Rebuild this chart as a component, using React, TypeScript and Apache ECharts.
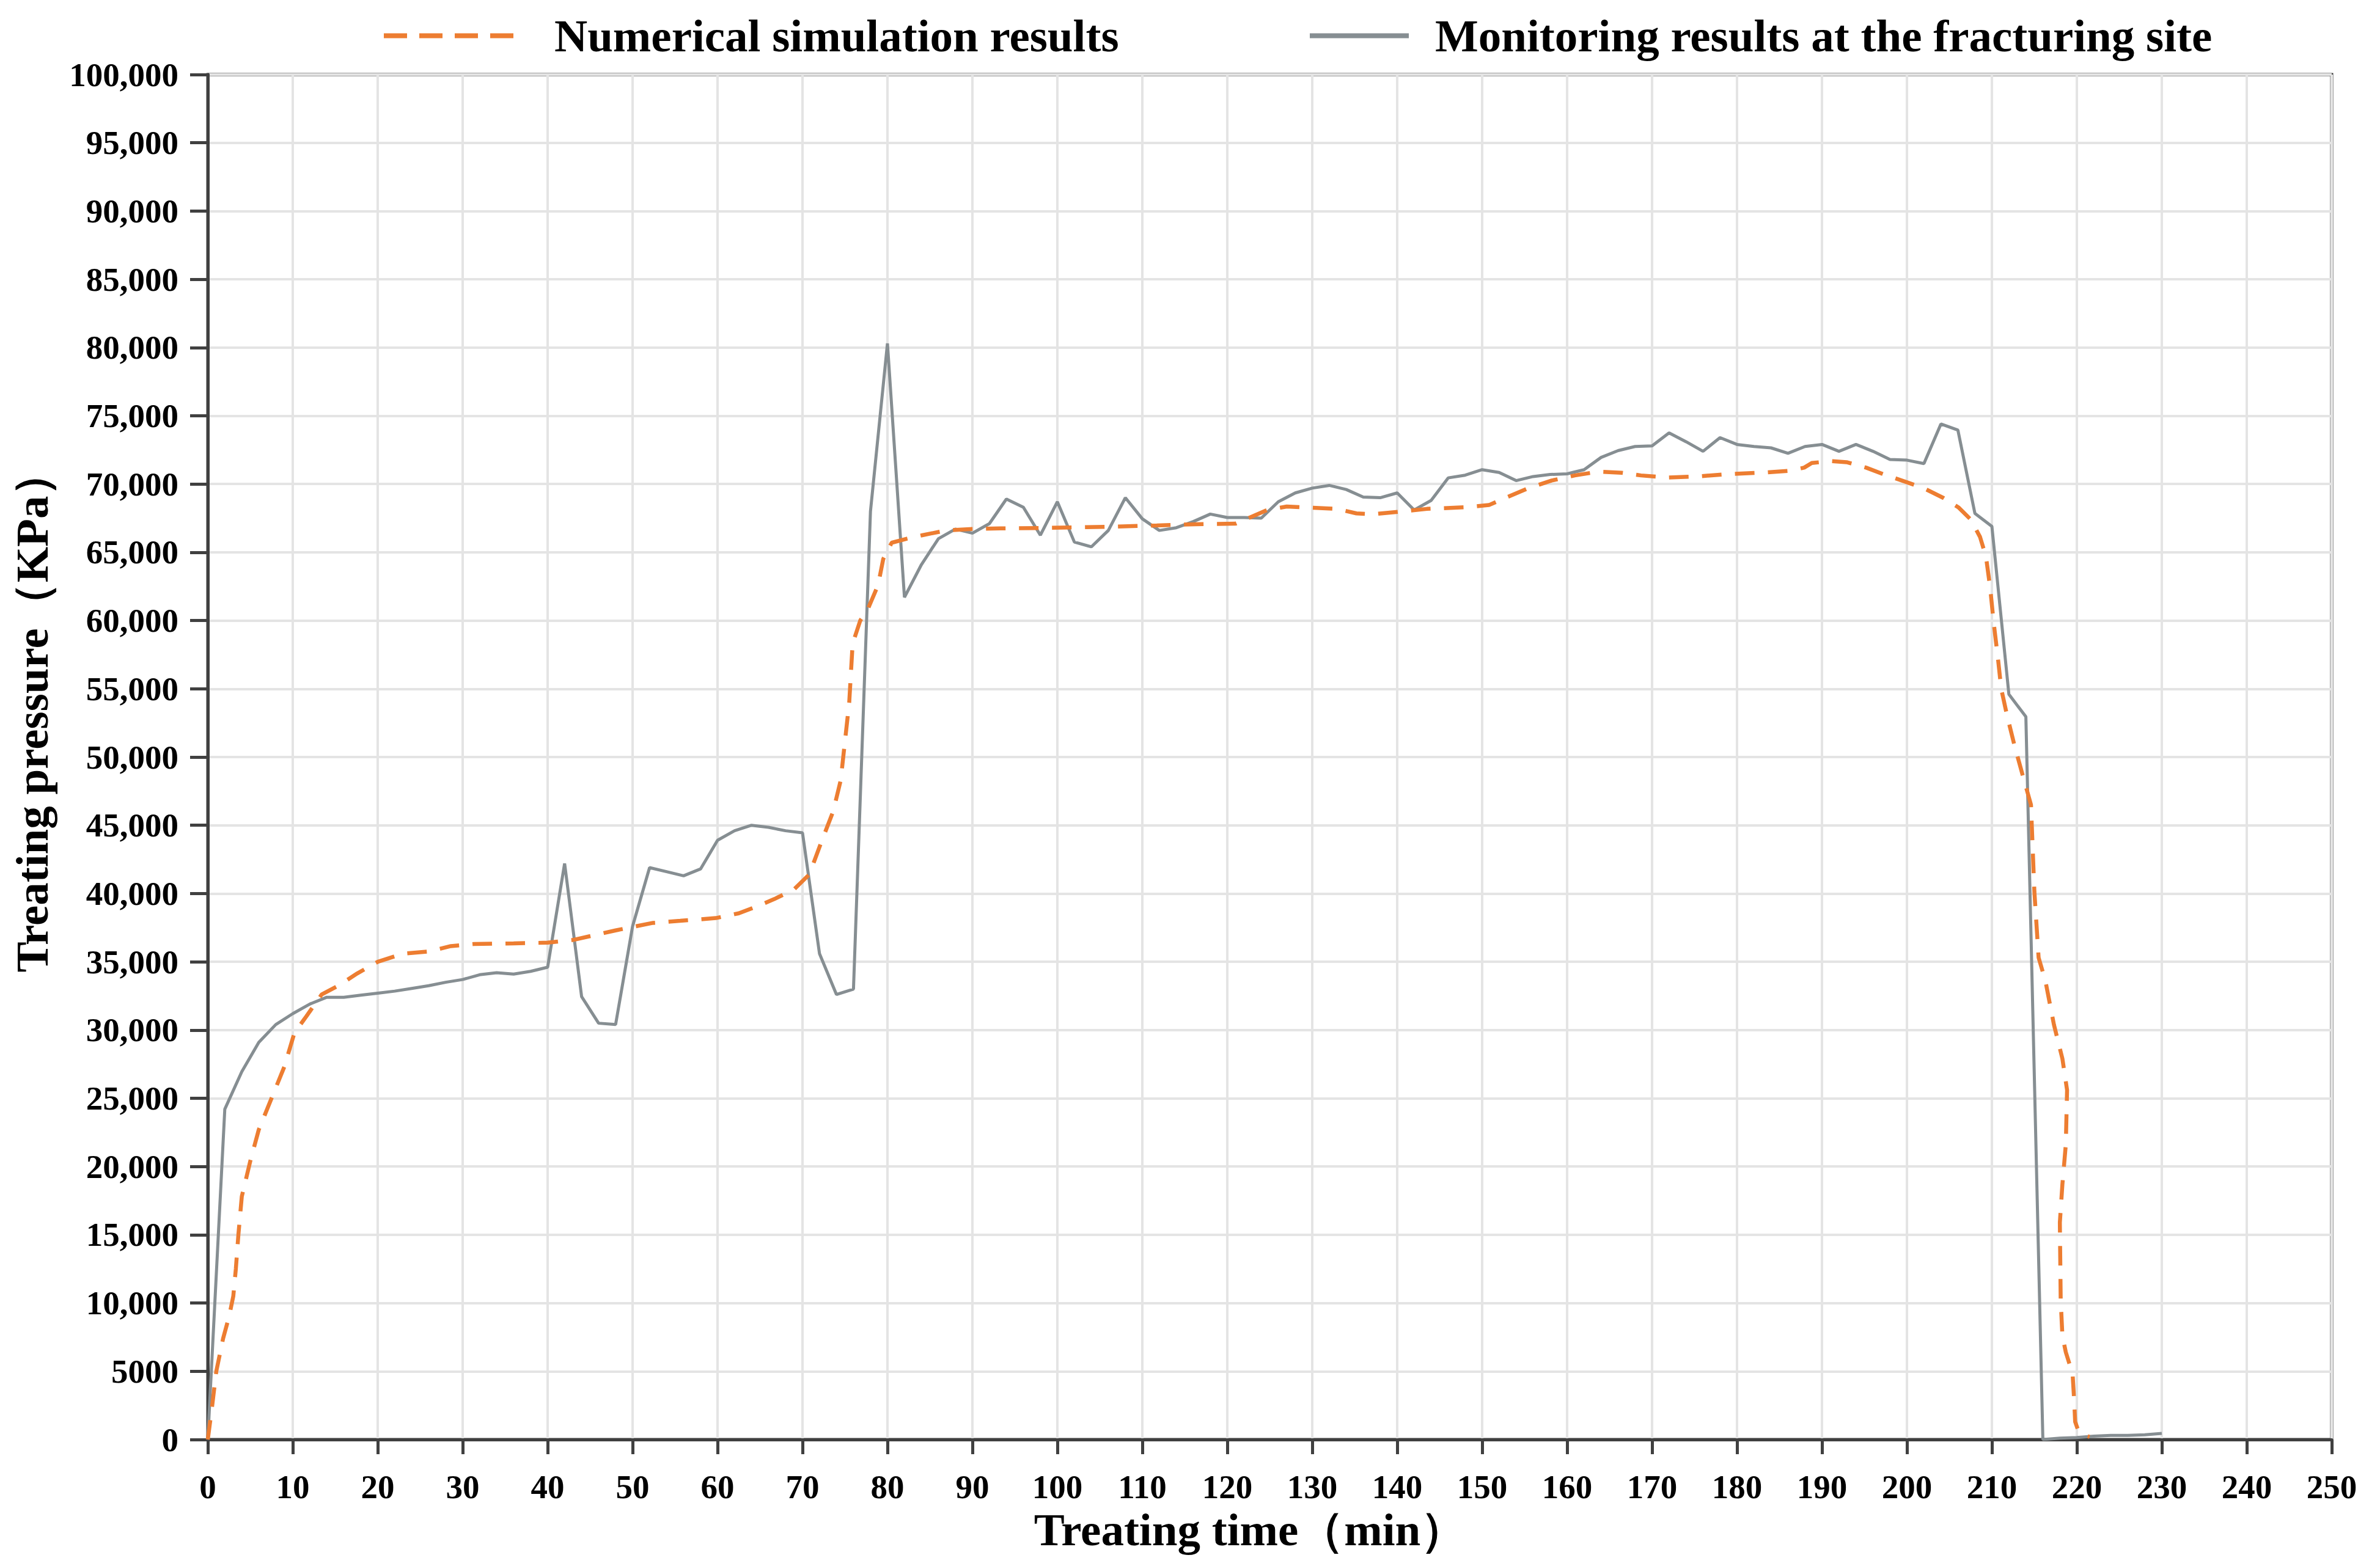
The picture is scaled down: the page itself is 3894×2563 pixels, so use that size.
import React, { useEffect, useRef } from 'react';
import * as echarts from 'echarts';

// 数值模拟结果
const simTime = [
  0, 0.5, 1, 1.8, 2.5, 3, 3.3, 3.6, 4, 5, 6, 7.5, 9, 10.2, 11.6, 13.4, 15.5, 17.6, 20, 23,
  26, 28.6, 31.3, 36, 40, 43, 45.5, 48, 50, 52.4, 55.6, 59.8, 62.5, 64.4, 66.7, 69, 70.8, 72.2,
  73.6, 74.5, 74.9, 75.5, 75.9, 76.8, 77.7, 78.9, 79.5, 80.5, 82.3, 84.1, 86.9, 89.7, 93.3,
  97.9, 102.5, 107.1, 111.7, 116.3, 121, 124.7, 127, 129.7, 132.9, 135.2, 137, 140.3, 143.5,
  148, 150.8, 152.7, 155.4, 158.2, 160.9, 163.7, 166.4, 168.7, 171.9, 175.6, 179.3, 183.4,
  186.1, 187.9, 188.8, 191, 192.9, 195.2, 197.4, 199.8, 202, 204.3, 206.1, 207.5, 208.6,
  209.3, 209.8, 210.2, 210.7, 211.1, 211.8, 212.7, 213.7, 214.6, 215, 215.5, 216.3, 217.3,
  218.3, 218.85, 218.7, 218.3, 218, 218.1, 218.3, 218.7, 219.1, 219.5, 219.7, 219.8, 220.2,
  220.9, 221.5,
];
const simPressure = [
  0, 2400, 5000, 7400, 9000, 10500, 12500, 15000, 17800, 20400, 22700, 25000, 27300, 29800,
  31000, 32600, 33300, 34150, 35000, 35600, 35750, 36150, 36300, 36350, 36400, 36600, 36950,
  37300, 37550, 37850, 38000, 38200, 38550, 39000, 39600, 40300, 41400, 43750, 46000, 48300,
  50600, 54000, 58300, 60000, 60850, 62600, 64500, 65700, 66000, 66250, 66600, 66700, 66750,
  66780, 66830, 66890, 66970, 67060, 67100, 68100, 68350, 68270, 68180, 67850, 67780, 67980,
  68180, 68300, 68460, 68980, 69690, 70260, 70630, 70910, 70830, 70630, 70480, 70570, 70740,
  70850, 70970, 71200, 71540, 71680, 71600, 71200, 70680, 70170, 69690, 68980, 68270, 67410,
  66130, 64700, 62400, 59900, 57300, 55000, 53000, 50750, 48500, 46500, 40150, 35300, 33600,
  30400, 27900, 25600, 21600, 18700, 15900, 10200, 7600, 6400, 5600, 4800, 2700, 1300, 600,
  300, 200,
];

// 压裂现场监测结果
const monTime = [
  0, 2, 4, 6, 8, 10, 12, 14, 16, 18, 20, 22, 24, 26, 28, 30, 32, 34, 36, 38, 40, 42, 44, 46,
  48, 50, 52, 54, 56, 58, 60, 62, 64, 66, 68, 70, 72, 74, 76, 78, 80, 82, 84, 86, 88, 90, 92,
  94, 96, 98, 100, 102, 104, 106, 108, 110, 112, 114, 116, 118, 120, 122, 124, 126, 128, 130,
  132, 134, 136, 138, 140, 142, 144, 146, 148, 150, 152, 154, 156, 158, 160, 162, 164, 166,
  168, 170, 172, 174, 176, 178, 180, 182, 184, 186, 188, 190, 192, 194, 196, 198, 200, 202,
  204, 206, 208, 210, 212, 214, 216, 218, 220, 222, 224, 226, 228, 230,
];
const monPressure = [
  0, 24200, 26950, 29100, 30400, 31200, 31900, 32400, 32400, 32550, 32700, 32850, 33050,
  33250, 33500, 33700, 34050, 34200, 34100, 34300, 34600, 42200, 32450, 30500, 30400, 37600,
  41900, 41600, 41300, 41800, 43900, 44600, 45000, 44850, 44600, 44450, 35600, 32600, 33000,
  68000, 80300, 61700, 64100, 66000, 66700, 66400, 67100, 68900, 68300, 66250, 68700, 65750,
  65400, 66600, 69000, 67450, 66600, 66800, 67250, 67800, 67550, 67550, 67500, 68700, 69350,
  69700, 69900, 69600, 69050, 69000, 69350, 68100, 68800, 70450, 70650, 71050, 70850, 70250,
  70550, 70700, 70750, 71050, 71950, 72450, 72750, 72800, 73750, 73100, 72400, 73400, 72900,
  72750, 72650, 72250, 72750, 72900, 72400, 72900, 72400, 71800, 71750, 71500, 74400, 73950,
  67850, 66900, 54600, 52950, 0, 100, 150, 250, 300, 300, 350, 450,
];

const yTickLabels = [
  '0', '5000', '10,000', '15,000', '20,000', '25,000', '30,000', '35,000', '40,000', '45,000',
  '50,000', '55,000', '60,000', '65,000', '70,000', '75,000', '80,000', '85,000', '90,000',
  '95,000', '100,000',
];
const seriesNames = ['Numerical simulation results', 'Monitoring results at the fracturing site'];

const FONT = "'Liberation Serif', 'Times New Roman', serif";
const AXIS_COLOR = '#404040';
const ORANGE = '#ED7D31';
const GRAY = '#868e92';

const App: React.FC = () => {
  const chartRef = useRef<HTMLDivElement>(null);

  useEffect(() => {
    document.body.style.margin = '0';
    if (!chartRef.current) return;
    const chart = echarts.init(chartRef.current, undefined, { renderer: 'svg' });

    const legendText = {
      fontFamily: FONT,
      fontWeight: 'bold',
      fontSize: 75,
      color: '#000',
    };

    const option = {
      animation: false,
      backgroundColor: '#ffffff',
      legend: [
        {
          data: [seriesNames[0]],
          left: 619,
          top: 16,
          itemWidth: 212,
          itemHeight: 30,
          itemStyle: { opacity: 0 },
          lineStyle: { width: 8, type: [38, 20], color: ORANGE },
          textStyle: { ...legendText, padding: [0, 0, 0, 62] },
        },
        {
          data: [seriesNames[1]],
          left: 2134,
          top: 16,
          itemWidth: 162,
          itemHeight: 30,
          itemStyle: { opacity: 0 },
          lineStyle: { width: 8, color: GRAY },
          textStyle: { ...legendText, padding: [0, 0, 0, 38] },
        },
      ],
      grid: {
        left: 340,
        right: 79,
        top: 122,
        bottom: 207,
        show: true,
        borderColor: AXIS_COLOR,
        borderWidth: 5,
      },
      xAxis: {
        type: 'value',
        min: 0,
        max: 250,
        interval: 10,
        name: 'Treating time（min）',
        nameLocation: 'middle',
        nameGap: 108,
        nameTextStyle: {
          fontFamily: FONT,
          fontWeight: 'bold',
          fontSize: 75,
          color: '#000',
          padding: [0, 64, 0, 0],
        },
        axisLine: { show: true, lineStyle: { color: AXIS_COLOR, width: 5 } },
        axisTick: { show: true, length: 24, lineStyle: { color: AXIS_COLOR, width: 5 } },
        axisLabel: {
          margin: 50,
          fontFamily: FONT,
          fontWeight: 'bold',
          fontSize: 55,
          color: '#000',
        },
        splitLine: { show: true, lineStyle: { color: '#e4e4e4', width: 4 } },
      },
      yAxis: {
        type: 'value',
        min: 0,
        max: 100000,
        interval: 5000,
        name: 'Treating pressure（KPa）',
        nameLocation: 'middle',
        nameGap: 250,
        nameTextStyle: {
          fontFamily: FONT,
          fontWeight: 'bold',
          fontSize: 75,
          color: '#000',
          padding: [0, 0, 0, 150],
        },
        axisLine: { show: true, lineStyle: { color: AXIS_COLOR, width: 5 } },
        axisTick: { show: true, length: 29, lineStyle: { color: AXIS_COLOR, width: 5 } },
        axisLabel: {
          margin: 48,
          fontFamily: FONT,
          fontWeight: 'bold',
          fontSize: 55,
          color: '#000',
          formatter: (v: number) => yTickLabels[Math.round(v / 5000)] ?? String(v),
        },
        splitLine: { show: true, lineStyle: { color: '#e4e4e4', width: 4 } },
      },
      series: [
        {
          name: seriesNames[0],
          type: 'line',
          data: simTime.map((t, i) => [t, simPressure[i]]),
          symbol: 'none',
          z: 3,
          lineStyle: { color: ORANGE, width: 6.5, type: [32, 22] },
          itemStyle: { color: ORANGE },
        },
        {
          name: seriesNames[1],
          type: 'line',
          data: monTime.map((t, i) => [t, monPressure[i]]),
          symbol: 'none',
          z: 2,
          lineStyle: { color: GRAY, width: 5 },
          itemStyle: { color: GRAY },
        },
      ],
    };

    chart.setOption(option);

    return () => {
      chart.dispose();
    };
  }, []);

  return (
    <div
      ref={chartRef}
      style={{ position: 'absolute', left: 0, top: 0, width: 3894, height: 2563 }}
    />
  );
};

export default App;
